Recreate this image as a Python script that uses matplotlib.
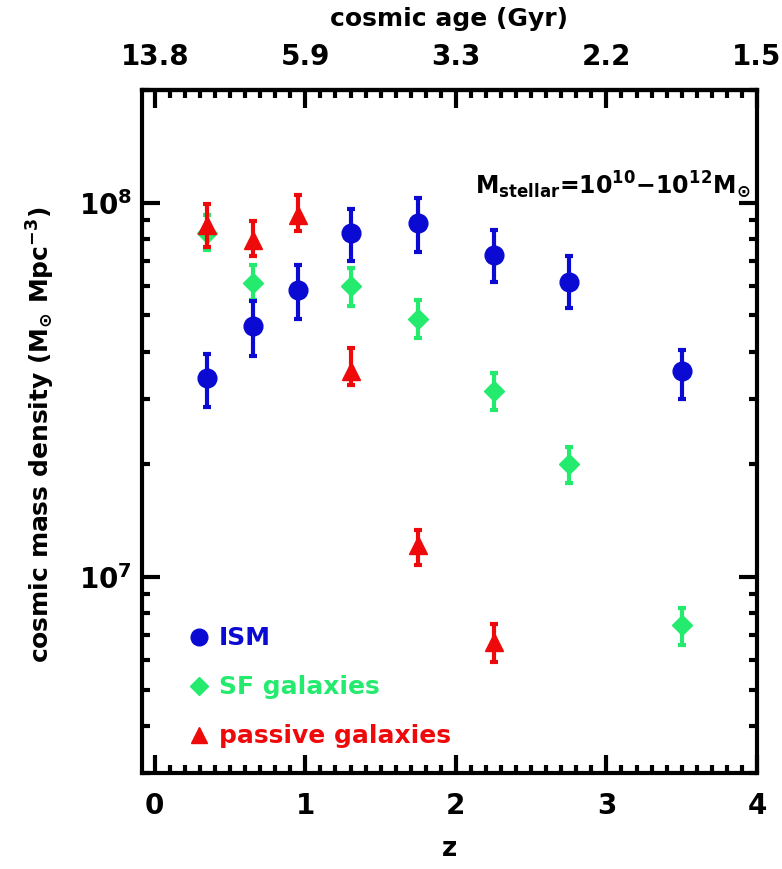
import math
import matplotlib
matplotlib.use("Agg")
import matplotlib.pyplot as plt
from matplotlib.ticker import FixedLocator, MultipleLocator, LogLocator, FuncFormatter, NullFormatter
from matplotlib.lines import Line2D

# Cosmic mass densities (M_sun Mpc^-3) versus redshift
z_ism = [0.35, 0.65, 0.95, 1.30, 1.75, 2.25, 2.75, 3.50]
ism = [3.40e7, 4.70e7, 5.85e7, 8.30e7, 8.85e7, 7.25e7, 6.15e7, 3.55e7]
ism_hi = [3.95e7, 5.45e7, 6.80e7, 9.65e7, 1.03e8, 8.45e7, 7.20e7, 4.05e7]
ism_lo = [2.85e7, 3.90e7, 4.90e7, 7.00e7, 7.40e7, 6.15e7, 5.25e7, 3.00e7]

z_sf = [0.35, 0.65, 1.30, 1.75, 2.25, 2.75, 3.50]
sf = [8.30e7, 6.10e7, 6.00e7, 4.90e7, 3.15e7, 2.00e7, 7.45e6]
sf_hi = [9.30e7, 6.80e7, 6.70e7, 5.50e7, 3.50e7, 2.23e7, 8.25e6]
sf_lo = [7.50e7, 5.50e7, 5.30e7, 4.35e7, 2.80e7, 1.78e7, 6.60e6]

z_pas = [0.35, 0.65, 0.95, 1.30, 1.75, 2.25]
pas = [8.70e7, 7.95e7, 9.30e7, 3.55e7, 1.22e7, 6.70e6]
pas_hi = [9.95e7, 8.95e7, 1.05e8, 4.10e7, 1.34e7, 7.50e6]
pas_lo = [7.60e7, 7.20e7, 8.40e7, 3.27e7, 1.08e7, 5.95e6]

z_ticks = [0, 1, 2, 3, 4]
age_labels = ["13.8", "5.9", "3.3", "2.2", "1.5"]

BLUE = "#0a0ad2"
GREEN = "#24ea6e"
RED = "#ee0a0a"

plt.rcParams["font.family"] = ["DejaVu Sans"]
plt.rcParams["font.weight"] = "bold"
plt.rcParams["mathtext.default"] = "bf"

fig = plt.figure(figsize=(7.82, 8.69), dpi=100)
ax = fig.add_axes([0.1816, 0.1105, 0.7864, 0.7859])


def err(v, lo, hi):
    return [[a - b for a, b in zip(v, lo)], [c - a for a, c in zip(v, hi)]]


common = dict(linestyle="none", elinewidth=3.0, capsize=3, capthick=3.0)
ax.errorbar(z_sf, sf, yerr=err(sf, sf_lo, sf_hi), fmt="D", ms=10,
            color=GREEN, ecolor=GREEN, zorder=3, **common)
ax.errorbar(z_ism, ism, yerr=err(ism, ism_lo, ism_hi), fmt="o", ms=13.5,
            color=BLUE, ecolor=BLUE, zorder=4, **common)
ax.errorbar(z_pas, pas, yerr=err(pas, pas_lo, pas_hi), fmt="^", ms=13,
            color=RED, ecolor=RED, zorder=5, **common)

ax.set_yscale("log")
ax.set_xlim(-0.085, 4.0)
ax.set_ylim(3e6, 2e8)

for s in ax.spines.values():
    s.set_linewidth(3)

ax.xaxis.set_major_locator(FixedLocator(z_ticks))
ax.xaxis.set_minor_locator(MultipleLocator(0.1))
ax.yaxis.set_major_locator(LogLocator(base=10))
ax.yaxis.set_minor_locator(LogLocator(base=10, subs=range(2, 10)))
ax.yaxis.set_major_formatter(FuncFormatter(lambda v, p: r"$\mathbf{10^{%d}}$" % round(math.log10(v))))
ax.yaxis.set_minor_formatter(NullFormatter())

ax.tick_params(which="both", direction="in", top=False, right=True, width=3)
ax.tick_params(which="major", length=13, labelsize=20)
ax.tick_params(which="minor", length=6)
ax.tick_params(axis="x", which="major", pad=14)
ax.tick_params(axis="y", which="major", pad=7)

ax.set_xlabel("z", fontsize=19, fontweight="bold", labelpad=11)
ax.set_ylabel(r"cosmic mass density (M$_{\odot}$ Mpc$^{-3}$)", fontsize=18,
              fontweight="bold")
ax.yaxis.set_label_coords(-0.139, 0.495)

top = ax.secondary_xaxis("top")
top.xaxis.set_major_locator(FixedLocator(z_ticks))
top.xaxis.set_minor_locator(MultipleLocator(0.1))
top.set_xticklabels(age_labels)
top.tick_params(which="both", direction="in", width=3)
top.tick_params(which="major", length=13, labelsize=20, pad=14)
top.tick_params(which="minor", length=6)
top.spines["top"].set_linewidth(3)
top.set_xlabel("cosmic age (Gyr)", fontsize=18, fontweight="bold", labelpad=12)

ax.text(0.99, 0.862, r"M$_{\mathbf{stellar}}$=10$^{10}$$-$10$^{12}$M$_{\odot}$",
        transform=ax.transAxes, ha="right", va="center", fontsize=17,
        fontweight="bold")

handles = [
    Line2D([], [], marker="o", ls="none", color=BLUE, ms=12),
    Line2D([], [], marker="D", ls="none", color=GREEN, ms=9),
    Line2D([], [], marker="^", ls="none", color=RED, ms=12),
]
labels = ["ISM", "SF galaxies", "passive galaxies"]
leg = ax.legend(handles, labels, loc="lower left", bbox_to_anchor=(0.04, 0.003),
                frameon=False, handlelength=0.8, handletextpad=0.4,
                labelspacing=1.0, labelcolor="linecolor",
                prop=dict(size=18, weight="bold"))

fig.savefig("out.png", dpi=100)
